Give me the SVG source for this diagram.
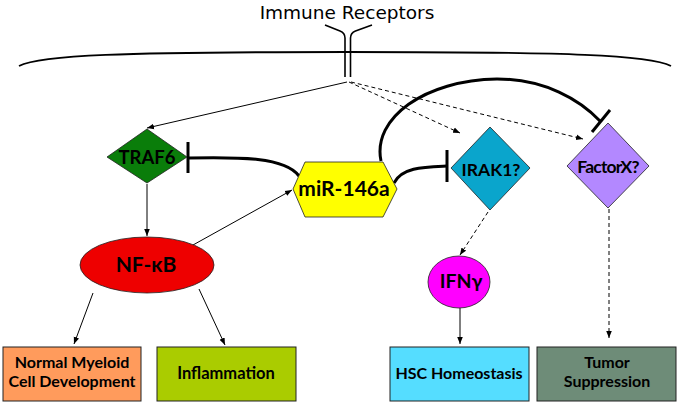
<svg xmlns="http://www.w3.org/2000/svg" width="677" height="404" viewBox="0 0 677 404">
<style>
.lbl{font-family:Lato,"Liberation Sans",sans-serif;font-weight:bold;fill:#000;text-anchor:middle}
.ln{fill:none;stroke:#000;stroke-width:1}
.dash{fill:none;stroke:#000;stroke-width:1;stroke-dasharray:4,3}
.inh{fill:none;stroke:#000;stroke-width:3}
.box{stroke:#222;stroke-width:1}
.nd{stroke:#222;stroke-width:0.8}
</style>
<defs>
<marker id="arr" viewBox="0 0 10 10" refX="10" refY="5" markerWidth="7" markerHeight="7" markerUnits="userSpaceOnUse" orient="auto">
<path d="M0,1 L10,5 L0,9 z" fill="#000"/>
</marker>
</defs>
<rect width="677" height="404" fill="#fff"/>
<g id="title">
<text x="347" y="19" font-family="'DejaVu Sans',Verdana,sans-serif" font-size="18.5" text-anchor="middle" fill="#000">Immune Receptors</text>
</g>
<g id="membrane">
<path d="M19,66 C40,55 120,52 347,52 C570,52 650,55 671,66" fill="none" stroke="#000" stroke-width="1.8"/>
</g>
<g id="receptor" fill="none" stroke="#000" stroke-width="1.6">
<path d="M345,77 V38 Q345,33 340,31 L325,25"/>
<path d="M350.5,77 V38 Q350.5,33 355.5,31 L372,25"/>
</g>
<g id="connectors">
<path class="ln" d="M347,82 L147,128" marker-end="url(#arr)"/>
<path class="dash" d="M349,82 L460,133" marker-end="url(#arr)"/>
<path class="dash" d="M351,82 L583,139" marker-end="url(#arr)"/>
<path class="ln" d="M147,184 L147,236" marker-end="url(#arr)"/>
<path class="ln" d="M193,245 L292,190" marker-end="url(#arr)"/>
<path class="ln" d="M93,293 L74,344" marker-end="url(#arr)"/>
<path class="ln" d="M199,289 L225,345" marker-end="url(#arr)"/>
<path class="dash" d="M488,212 L460,255" marker-end="url(#arr)"/>
<path class="ln" d="M460,308 L460,344" marker-end="url(#arr)"/>
<path class="dash" d="M609,209 L609,338" marker-end="url(#arr)"/>
<path class="inh" d="M189,158 C240,157 285,157 299,176"/>
<path class="inh" d="M188,142 V173"/>
<path class="inh" d="M394,183 C402,167 425,167 447,166"/>
<path class="inh" d="M447,150 V182"/>
<path class="inh" d="M381,161 C372,118 425,80 497,79 C545,79 580,100 600,121"/>
<path class="inh" d="M592,132 L610,110"/>
</g>
<g id="traf6">
<polygon class="nd" points="147,129 187,157 147,183 107,157" fill="#0a7d0a"/>
<text class="lbl" x="147" y="164" font-size="18.5">TRAF6</text>
</g>
<g id="mir146a">
<polygon class="nd" points="293,189 305,162 383,162 397,189 383,217 305,217" fill="#ffff00"/>
<text class="lbl" x="344" y="196" font-size="21">miR-146a</text>
</g>
<g id="irak1">
<polygon class="nd" points="490,127 530,168 490,210 451,168" fill="#0aa5cc"/>
<text class="lbl" x="491" y="176" font-size="17.5" font-weight="600">IRAK1?</text>
</g>
<g id="factorx">
<polygon class="nd" points="608,123 649,166 608,208 567,166" fill="#b388ff"/>
<text class="lbl" x="608" y="173" font-size="17.5" letter-spacing="-0.8">FactorX?</text>
</g>
<g id="nfkb">
<ellipse class="nd" cx="147" cy="265" rx="67" ry="28" fill="#ee0000"/>
<text class="lbl" x="146" y="272" font-size="21">NF-κB</text>
</g>
<g id="ifng">
<ellipse class="nd" cx="459" cy="282" rx="31" ry="26" fill="#ff00ff"/>
<text class="lbl" x="461" y="288" font-size="19.5">IFNγ</text>
</g>
<g id="normal">
<rect class="box" x="3" y="347" width="138" height="54" fill="#ff9b5c"/>
<text class="lbl" x="72" y="368" font-size="16">Normal Myeloid</text>
<text class="lbl" x="72" y="387" font-size="16">Cell Development</text>
</g>
<g id="inflammation">
<rect class="box" x="157" y="347" width="139" height="54" fill="#aacc00"/>
<text class="lbl" x="226" y="379" font-size="16.5">Inflammation</text>
</g>
<g id="hsc">
<rect class="box" x="390" y="347" width="139" height="54" fill="#55ddff"/>
<text class="lbl" x="459" y="379" font-size="16">HSC Homeostasis</text>
</g>
<g id="tumor">
<rect class="box" x="537" y="347" width="139" height="54" fill="#6e8c78"/>
<text class="lbl" x="607" y="368" font-size="16">Tumor</text>
<text class="lbl" x="607" y="387" font-size="16">Suppression</text>
</g>
</svg>
